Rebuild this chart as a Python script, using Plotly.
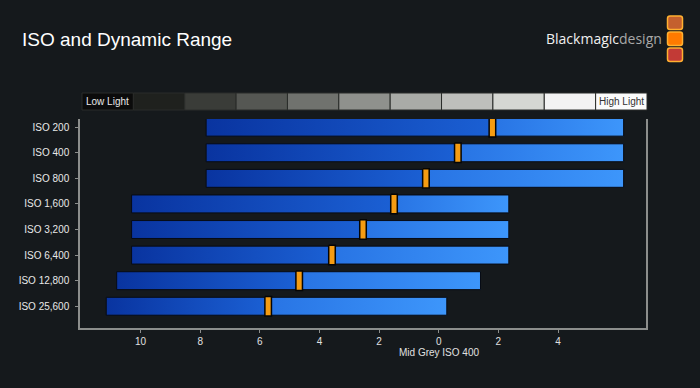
import plotly.graph_objects as go

# ---------------- data ----------------
iso_labels = ["ISO 200", "ISO 400", "ISO 800", "ISO 1,600", "ISO 3,200",
              "ISO 6,400", "ISO 12,800", "ISO 25,600"]
range_low = [-7.8, -7.8, -7.8, -10.3, -10.3, -10.3, -10.8, -11.15]   # stops below mid grey (left end)
range_high = [6.2, 6.2, 6.2, 2.35, 2.35, 2.35, 1.4, 0.27]           # stops above mid grey (right end)
mid_grey = [1.8, 0.64, -0.43, -1.5, -2.54, -3.58, -4.68, -5.72]     # orange marker position
x_ticks = [-10, -8, -6, -4, -2, 0, 2, 4]
x_tick_text = ["10", "8", "6", "4", "2", "0", "2", "4"]
grey_steps = ["#0b0b0b", "#1f211e", "#3a3c38", "#555753", "#70726e", "#8f918d",
              "#a9aba7", "#bebfbc", "#d5d7d3", "#f3f3f3", "#fbfbfb"]

# ---------------- layout geometry (pixels) ----------------
W, H = 700, 388
L, R, T, B = 80, 54, 119, 60
PW, PH = W - L - R, H - T - B


def px(x):
    return (x - L) / PW


def py(y):
    return (H - B - y) / PH


BG = "#15191c"
HALF = 0.35
fig = go.Figure()

for i in range(len(iso_labels)):
    lo, hi, m = range_low[i], range_high[i], mid_grey[i]
    ys = [i - HALF, i - HALF, i + HALF, i + HALF, i - HALF]
    # left part of bar
    fig.add_trace(go.Scatter(
        x=[lo, m, m, lo, lo], y=ys, mode="lines", fill="toself",
        line=dict(color="#070b14", width=1),
        fillgradient=dict(type="horizontal",
                          colorscale=[[0, "#0934a0"], [1, "#1b60d4"]]),
        hoverinfo="skip", showlegend=False))
    # right part of bar
    fig.add_trace(go.Scatter(
        x=[m, hi, hi, m, m], y=ys, mode="lines", fill="toself",
        line=dict(color="#070b14", width=1),
        fillgradient=dict(type="horizontal",
                          colorscale=[[0, "#2874e4"], [1, "#3d96fb"]]),
        hoverinfo="skip", showlegend=False))
    # orange mid grey marker
    mw, mh = 0.11, 0.38
    fig.add_trace(go.Scatter(
        x=[m - mw, m + mw, m + mw, m - mw, m - mw],
        y=[i - mh, i - mh, i + mh, i + mh, i - mh],
        mode="lines", fill="toself", fillcolor="#f59c12",
        line=dict(color="#050505", width=1.5),
        hoverinfo="skip", showlegend=False))

shapes = []
# grey scale strip
n = len(grey_steps)
x0s, x1s = px(82), px(647)
for k, c in enumerate(grey_steps):
    a = x0s + (x1s - x0s) * k / n
    b = x0s + (x1s - x0s) * (k + 1) / n
    shapes.append(dict(type="rect", xref="paper", yref="paper",
                       x0=a, x1=b, y0=py(110), y1=py(93),
                       fillcolor=c, line=dict(color="#2a2c2a", width=1), layer="above"))

# logo squares
sq_cols = ["#c4602e", "#ff7a00", "#c23a36"]
sq_y = [16, 32, 48]
for c, yy in zip(sq_cols, sq_y):
    x0, x1, y0, y1 = 667.5, 682.5, yy, yy + 13.5
    r = 2.5
    path = (f"M {px(x0 + r)} {py(y0)} L {px(x1 - r)} {py(y0)} "
            f"Q {px(x1)} {py(y0)} {px(x1)} {py(y0 + r)} L {px(x1)} {py(y1 - r)} "
            f"Q {px(x1)} {py(y1)} {px(x1 - r)} {py(y1)} L {px(x0 + r)} {py(y1)} "
            f"Q {px(x0)} {py(y1)} {px(x0)} {py(y1 - r)} L {px(x0)} {py(y0 + r)} "
            f"Q {px(x0)} {py(y0)} {px(x0 + r)} {py(y0)} Z")
    shapes.append(dict(type="path", xref="paper", yref="paper", path=path,
                       fillcolor=c, line=dict(color="#ffb030", width=1.5)))

annotations = [
    dict(text="ISO and Dynamic Range", xref="paper", yref="paper",
         x=px(20), y=py(40), xanchor="left", yanchor="middle", showarrow=False,
         font=dict(family="Liberation Sans, Arial, sans-serif", size=19, color="#ffffff")),
    dict(text="Blackmagic<span style='color:#a8a8a8'>design</span>",
         xref="paper", yref="paper", x=px(664), y=py(38), xanchor="right",
         yanchor="middle", showarrow=False,
         font=dict(family="Open Sans, sans-serif", size=14, color="#f0f0f0")),
    dict(text="Low Light", xref="paper", yref="paper",
         x=x0s + (x1s - x0s) * 0.5 / n, y=py(101.5), xanchor="center",
         yanchor="middle", showarrow=False,
         font=dict(family="Liberation Sans, Arial, sans-serif", size=10, color="#e8e8e8")),
    dict(text="High Light", xref="paper", yref="paper",
         x=x0s + (x1s - x0s) * (n - 0.5) / n, y=py(101.5), xanchor="center",
         yanchor="middle", showarrow=False,
         font=dict(family="Liberation Sans, Arial, sans-serif", size=10, color="#333333")),
    dict(text="Mid Grey ISO 400", xref="x", yref="paper", x=0, y=py(352),
         xanchor="center", yanchor="middle", showarrow=False,
         font=dict(family="Liberation Sans, Arial, sans-serif", size=10, color="#e0e0e0")),
]

fig.update_layout(
    width=W, height=H,
    margin=dict(l=L, r=R, t=T, b=B),
    paper_bgcolor=BG, plot_bgcolor=BG,
    shapes=shapes, annotations=annotations,
    showlegend=False,
    xaxis=dict(range=[-12.03, 6.95], tickvals=x_ticks, ticktext=x_tick_text,
               showgrid=False, zeroline=False, showline=True,
               linecolor="#8c8e8c", linewidth=1.5, ticks="outside", ticklen=3,
               tickcolor="#8c8e8c", tickwidth=1,
               tickfont=dict(family="Liberation Sans, Arial, sans-serif", size=10, color="#e0e0e0")),
    yaxis=dict(range=[7.85, -0.32], tickvals=list(range(len(iso_labels))),
               ticktext=iso_labels, showgrid=False, zeroline=False,
               showline=True, mirror=True, linecolor="#8c8e8c", linewidth=1.5,
               ticks="outside", ticklen=3, tickcolor="#8c8e8c", tickwidth=1,
               ticklabelstandoff=4,
               tickfont=dict(family="Liberation Sans, Arial, sans-serif", size=10, color="#e8e8e8")),
)

fig.write_html("out.html", config={"displayModeBar": False},
               post_script="document.body.style.margin='0';"
                           "document.body.style.background='" + BG + "';")
